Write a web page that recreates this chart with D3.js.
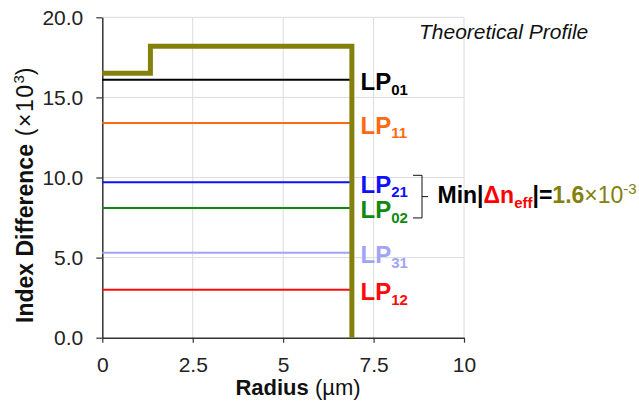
<!DOCTYPE html>
<html>
<head>
<meta charset="utf-8">
<script src="https://cdn.jsdelivr.net/npm/d3@7"></script>
<style>
  html, body { margin: 0; padding: 0; background: #fff; }
  svg { display: block; font-family: "Liberation Sans", Arial, sans-serif; }
</style>
</head>
<body>
<svg id="chart" width="639" height="404"></svg>
<script>
// Step-index refractive profile: radius breakpoints (µm) and index difference (×10^3)
const profileRadius = [0, 1.33, 6.9, 6.9];
const profileIndex  = [16.5, 18.2, 18.2, 0];

// Guided LP modes: effective index difference (×10^3)
const modeNames  = ["01", "11", "21", "02", "31", "12"];
const modeValues = [16.1, 13.4, 9.7, 8.1, 5.3, 3.0];
const modeColors = ["#000000", "#ff6a10", "#1010ff", "#0f8a0f", "#a3a3f5", "#ff0a0a"];
const coreRadius = 6.9;

// Axis ticks
const xTicks = [0, 2.5, 5, 7.5, 10];
const xTickLabels = ["0", "2.5", "5", "7.5", "10"];
const yTicks = [0, 5, 10, 15, 20];
const yTickLabels = ["0.0", "5.0", "10.0", "15.0", "20.0"];

const olive = "#84800c";
const svg = d3.select("#chart");

const x = d3.scaleLinear().domain([0, 10]).range([102.3, 464]);
const y = d3.scaleLinear().domain([0, 20]).range([337.7, 17.3]);

// Grid
const grid = svg.append("g").attr("stroke", "#dcdcdc").attr("stroke-width", 1);
grid.selectAll("line.v").data(xTicks.slice(1)).join("line")
  .attr("x1", d => x(d)).attr("x2", d => x(d))
  .attr("y1", y(0)).attr("y2", y(20));
grid.selectAll("line.h").data(yTicks.slice(1)).join("line")
  .attr("x1", x(0)).attr("x2", x(10))
  .attr("y1", d => y(d)).attr("y2", d => y(d));

// Axes
const xAxis = d3.axisBottom(x).tickValues(xTicks)
  .tickFormat((d, i) => xTickLabels[i]).tickSize(5).tickPadding(14).tickSizeOuter(0);
const yAxis = d3.axisLeft(y).tickValues(yTicks)
  .tickFormat((d, i) => yTickLabels[i]).tickSize(6).tickPadding(13).tickSizeOuter(0);

const gx = svg.append("g").attr("transform", `translate(0,${y(0)})`).call(xAxis);
const gy = svg.append("g").attr("transform", `translate(${x(0)},0)`).call(yAxis);
[gx, gy].forEach(g => {
  g.select(".domain").attr("stroke", "#333").attr("stroke-width", 1.5);
  g.selectAll(".tick line").attr("stroke", "#333").attr("stroke-width", 1.2);
  g.selectAll(".tick text").attr("fill", "#222").style("font-size", "21px")
    .style("font-family", "Liberation Sans, Arial, sans-serif");
});

// Mode lines
svg.append("g").selectAll("line").data(modeValues).join("line")
  .attr("x1", x(0)).attr("x2", x(coreRadius))
  .attr("y1", d => y(d)).attr("y2", d => y(d))
  .attr("stroke", (d, i) => modeColors[i]).attr("stroke-width", 2);

// Refractive index profile
const profile = d3.line().curve(d3.curveStepAfter)
  .x(d => x(d[0])).y(d => y(d[1]));
svg.append("path")
  .datum(profileRadius.map((r, i) => [r, profileIndex[i]]))
  .attr("d", profile)
  .attr("fill", "none").attr("stroke", olive).attr("stroke-width", 5)
  .attr("stroke-linejoin", "miter").attr("stroke-linecap", "butt");

// Mode labels
const labels = svg.append("g").selectAll("text").data(modeValues).join("text")
  .attr("x", 360.5).attr("y", d => y(d) + 10.5)
  .attr("fill", (d, i) => modeColors[i])
  .style("font-size", "24px").style("font-weight", "bold");
labels.append("tspan").text("LP");
labels.append("tspan").attr("dy", 4.5).style("font-size", "15px")
  .text((d, i) => modeNames[i]);

// Bracket joining the closest pair of modes
const bx = 422, bTop = y(modeValues[2]) - 7, bBot = y(modeValues[3]) + 10, bMid = (bTop + bBot) / 2;
svg.append("path")
  .attr("d", `M${bx - 9},${bTop}H${bx}V${bBot}H${bx - 9}M${bx},${bMid}H${bx + 6}`)
  .attr("fill", "none").attr("stroke", "#111").attr("stroke-width", 1);

// Minimum effective-index spacing annotation
const minDelta = d3.min(d3.pairs(modeValues), p => Math.abs(p[0] - p[1]));
const note = svg.append("text").attr("x", 437.5).attr("y", bMid + 6)
  .style("font-size", "23px").style("font-weight", "bold");
note.append("tspan").attr("fill", "#000").text("Min|");
note.append("tspan").attr("fill", "#ff0000").text("Δn");
note.append("tspan").attr("fill", "#ff0000").attr("dy", 5).style("font-size", "15px").text("eff");
note.append("tspan").attr("fill", "#000").attr("dy", -5).text("|=");
note.append("tspan").attr("fill", olive).text(minDelta.toFixed(1));
note.append("tspan").attr("fill", olive).style("font-weight", "normal").text("×10");
note.append("tspan").attr("fill", olive).style("font-weight", "normal")
  .attr("dy", -9).style("font-size", "15px").text("-3");

// Title inside the plot
svg.append("text").attr("x", 419).attr("y", 39)
  .style("font-size", "21px").style("font-style", "italic").attr("fill", "#111")
  .text("Theoretical Profile");

// Axis titles
const xt = svg.append("text").attr("x", 298).attr("y", 395).attr("text-anchor", "middle")
  .style("font-size", "22px").attr("fill", "#111");
xt.append("tspan").style("font-weight", "bold").text("Radius");
xt.append("tspan").text(" (µm)");

const yt = svg.append("text").attr("transform", "translate(33,323) rotate(-90)")
  .attr("text-anchor", "start").style("font-size", "23px").attr("fill", "#111");
yt.append("tspan").style("font-weight", "bold").text("Index Difference");
yt.append("tspan").style("letter-spacing", "1.5px").text(" (×10");
yt.append("tspan").attr("dy", -9).style("font-size", "15px").text("3");
yt.append("tspan").attr("dy", 9).text(")");
</script>
</body>
</html>
